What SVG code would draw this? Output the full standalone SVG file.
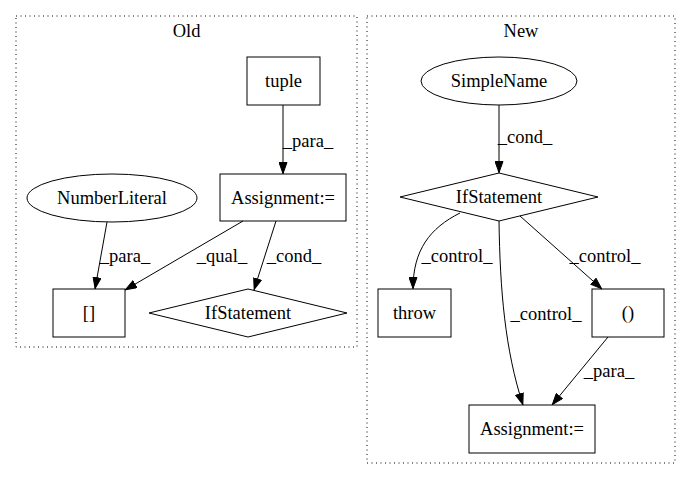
<svg xmlns="http://www.w3.org/2000/svg" width="691" height="480" viewBox="0 0 691 480">
<style>
text{font-family:"Liberation Serif","Times New Roman",serif;font-size:18.5px;fill:#000;text-anchor:middle}
.n{fill:none;stroke:#000;stroke-width:1}
.c{fill:none;stroke:#000;stroke-width:1;stroke-dasharray:1,3.5}
.e{fill:none;stroke:#000;stroke-width:1;marker-end:url(#ah)}
</style>
<defs>
<marker id="ah" viewBox="0 0 12 9" refX="12" refY="4.5" markerWidth="12" markerHeight="9" markerUnits="userSpaceOnUse" orient="auto">
<path d="M0.5,0.5 L11.5,4.5 L0.5,8.5 z" fill="#000" stroke="#000"/>
</marker>
</defs>
<rect width="691" height="480" fill="#fff"/>
<g id="cluster_old">
<rect class="c" x="16" y="16" width="341" height="331"/>
<text x="186.5" y="37">Old</text>
</g>
<g id="cluster_new">
<rect class="c" x="367" y="16" width="308" height="447"/>
<text x="521" y="37">New</text>
</g>
<g id="connectors">
<path class="e" d="M283,105 L283,174"/>
<text x="308" y="147">_para_</text>
<path class="e" d="M107,222 L95,289"/>
<text x="125" y="262">_para_</text>
<path class="e" d="M243,221 L125,290"/>
<text x="222" y="262">_qual_</text>
<path class="e" d="M276,221 L254,290"/>
<text x="294" y="262">_cond_</text>
<path class="e" d="M499,105 L499,173"/>
<text x="525" y="143">_cond_</text>
<path class="e" d="M460,213 C430,228 413,250 413,289"/>
<text x="457" y="262">_control_</text>
<path class="e" d="M499,221 C500,290 505,350 523,405"/>
<text x="546" y="320">_control_</text>
<path class="e" d="M520,216 L602,289"/>
<text x="605" y="262">_control_</text>
<path class="e" d="M608,337 L552,405"/>
<text x="609" y="377">_para_</text>
</g>
<g id="tuple">
<rect class="n" x="247" y="57" width="73" height="48"/>
<text x="283.5" y="87">tuple</text>
</g>
<g id="assign_old">
<rect class="n" x="220" y="174" width="126" height="47"/>
<text x="283" y="203.5">Assignment:=</text>
</g>
<g id="numberliteral">
<ellipse class="n" cx="112" cy="198" rx="85" ry="24"/>
<text x="112" y="203.5">NumberLiteral</text>
</g>
<g id="index">
<rect class="n" x="53" y="289" width="72" height="48"/>
<text x="89" y="318.5">[]</text>
</g>
<g id="if_old">
<polygon class="n" points="248,289 347,313 248,337 149,313"/>
<text x="248" y="318.5">IfStatement</text>
</g>
<g id="simplename">
<ellipse class="n" cx="499" cy="81" rx="78" ry="24"/>
<text x="499" y="87">SimpleName</text>
</g>
<g id="if_new">
<polygon class="n" points="499,173 598,197 499,221 400,197"/>
<text x="499" y="202.5">IfStatement</text>
</g>
<g id="throw">
<rect class="n" x="378" y="289" width="73" height="48"/>
<text x="414.5" y="318.5">throw</text>
</g>
<g id="paren">
<rect class="n" x="592" y="289" width="72" height="48"/>
<text x="628" y="318.5">()</text>
</g>
<g id="assign_new">
<rect class="n" x="469" y="405" width="126" height="48"/>
<text x="532" y="434.5">Assignment:=</text>
</g>
</svg>
